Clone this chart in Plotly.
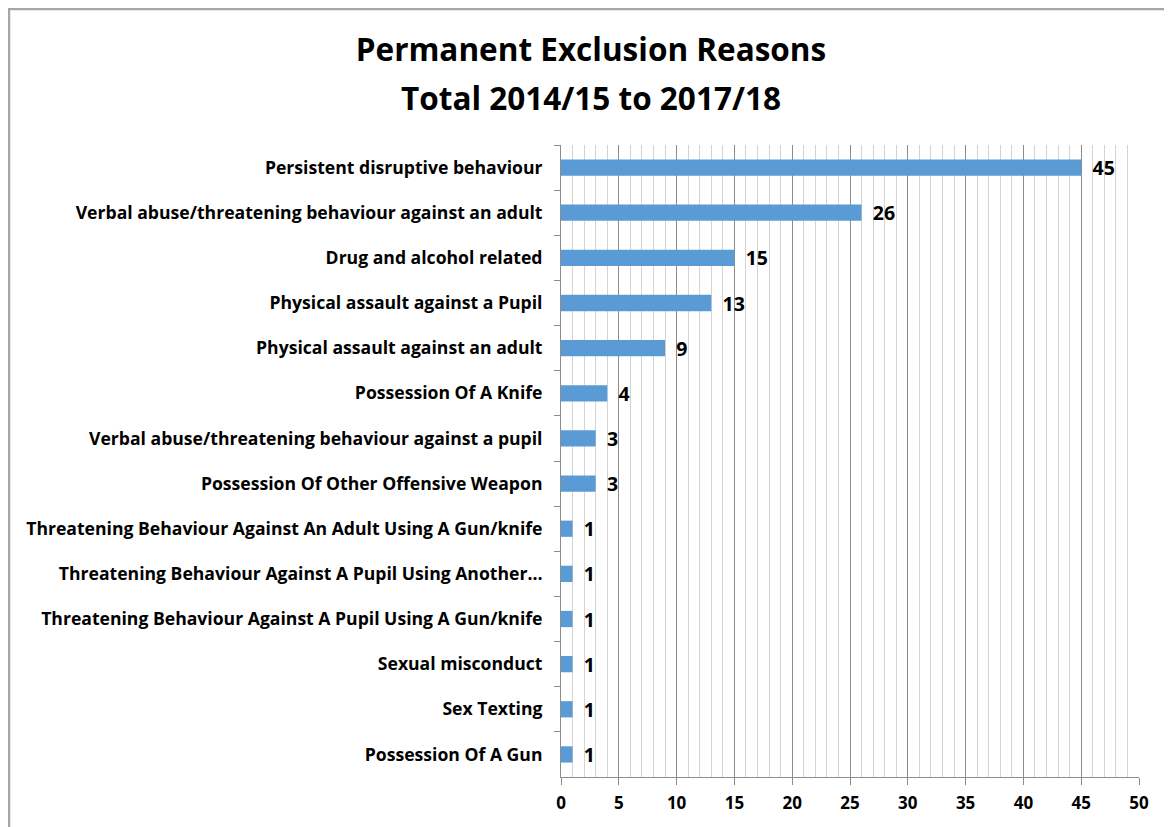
import plotly.graph_objects as go

title_lines = ["Permanent Exclusion Reasons", "Total 2014/15 to 2017/18"]
categories = [
    "Persistent disruptive behaviour",
    "Verbal abuse/threatening behaviour against an adult",
    "Drug and alcohol related",
    "Physical assault against a Pupil",
    "Physical assault against an adult",
    "Possession Of A Knife",
    "Verbal abuse/threatening behaviour against a pupil",
    "Possession Of Other Offensive Weapon",
    "Threatening Behaviour Against An Adult Using A Gun/knife",
    "Threatening Behaviour Against A Pupil Using Another…",
    "Threatening Behaviour Against A Pupil Using A Gun/knife",
    "Sexual misconduct",
    "Sex Texting",
    "Possession Of A Gun",
]
values = [45, 26, 15, 13, 9, 4, 3, 3, 1, 1, 1, 1, 1, 1]
x_ticks = [0, 5, 10, 15, 20, 25, 30, 35, 40, 45, 50]

FONT = "Open Sans"
OFF = 8  # page body margin
W, H = 1172 - OFF, 827 - OFF
L, R, T, B = 561 - OFF, 33, 145 - OFF, 50
pw, ph = W - L - R, H - T - B


def py_to_paper(py):
    return (H - B - (py - OFF)) / ph


fig = go.Figure(go.Bar(
    x=values, y=categories, orientation="h",
    marker=dict(color="#5b9bd5", line=dict(width=0)),
    width=0.36,
    text=[f" \u2009{v}" for v in values], textposition="outside",
    constraintext="none",
    textfont=dict(family=FONT, size=19.5, color="black", weight="bold"),
    cliponaxis=False,
))

title_font = dict(family=FONT, size=31.5, color="black", weight="bold")
fig.update_layout(
    width=W, height=H,
    margin=dict(l=L, r=R, t=T, b=B, autoexpand=False),
    paper_bgcolor="white", plot_bgcolor="white",
    showlegend=False,
    title=dict(
        text=title_lines[0],
        x=(591 - OFF) / W, xanchor="center", y=1 - (50 - OFF) / H, yanchor="middle",
        font=title_font,
    ),
    annotations=[dict(
        text=title_lines[1], xref="paper", yref="paper",
        x=(591 - L - OFF) / pw, xanchor="center",
        y=py_to_paper(97), yanchor="middle",
        showarrow=False, font=title_font,
    )],
    xaxis=dict(
        range=[0, 50], tickvals=x_ticks, ticks="outside", ticklen=7,
        tickcolor="#8c8c8c", tickwidth=1,
        showgrid=True, gridcolor="#8c8c8c", gridwidth=1,
        minor=dict(dtick=1, showgrid=True, gridcolor="#d4d4d4", gridwidth=1),
        showline=True, linecolor="#8c8c8c", linewidth=1,
        tickfont=dict(family=FONT, size=17, color="black", weight="bold"),
        ticklabelstandoff=4,
        zeroline=False, fixedrange=True,
    ),
    yaxis=dict(
        autorange="reversed", type="category",
        ticks="outside", tickson="boundaries", ticklen=6, tickcolor="#8c8c8c",
        showline=True, linecolor="#8c8c8c", linewidth=1,
        showgrid=False,
        tickfont=dict(family=FONT, size=17.6, color="black", weight="bold"),
        ticklabelstandoff=14,
    ),
    shapes=[dict(
        type="rect", xref="paper", yref="paper",
        x0=(1 - L) / pw, x1=(W + 10 - L) / pw,
        y0=-(B + 10) / ph, y1=(H - B - 1) / ph,
        line=dict(color="#a6a6a6", width=2.5), fillcolor="rgba(0,0,0,0)",
        layer="below",
    )],
)

fig.write_html("out.html")
